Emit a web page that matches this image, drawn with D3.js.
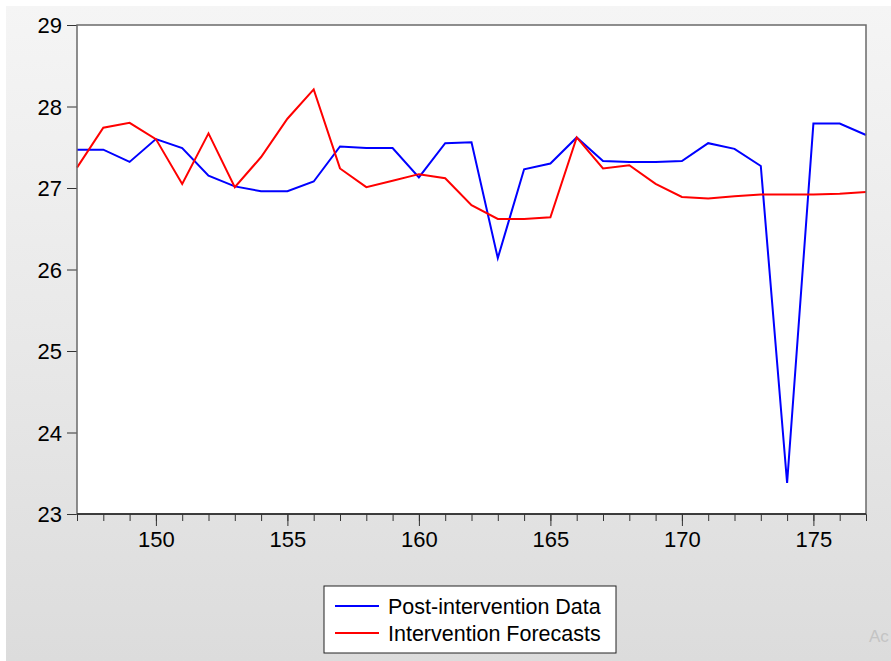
<!DOCTYPE html>
<html>
<head>
<meta charset="utf-8">
<script src="https://cdn.jsdelivr.net/npm/d3@7"></script>
<style>
  html, body { margin: 0; padding: 0; background: #fff; }
  #chart { width: 891px; height: 661px; }
  text { font-family: "Liberation Sans", Arial, sans-serif; fill: #000; }
</style>
</head>
<body>
<div id="chart"></div>
<script>
// periodos observados
const periodos = [147, 148, 149, 150, 151, 152, 153, 154, 155, 156, 157, 158, 159, 160, 161,
  162, 163, 164, 165, 166, 167, 168, 169, 170, 171, 172, 173, 174, 175, 176, 177];

// datos post-intervencion (azul)
const datosPost = [27.47, 27.47, 27.32, 27.60, 27.49, 27.15, 27.02, 26.96, 26.96, 27.08, 27.51,
  27.49, 27.49, 27.13, 27.55, 27.56, 26.14, 27.23, 27.30, 27.62, 27.33, 27.32, 27.32, 27.33,
  27.55, 27.48, 27.27, 23.38, 27.79, 27.79, 27.65];

// pronosticos de intervencion (rojo)
const pronosticos = [27.25, 27.74, 27.80, 27.60, 27.05, 27.67, 27.01, 27.38, 27.85, 28.21, 27.24,
  27.01, 27.09, 27.17, 27.12, 26.79, 26.62, 26.62, 26.64, 27.62, 27.24, 27.28, 27.05, 26.89,
  26.87, 26.90, 26.92, 26.92, 26.92, 26.93, 26.95];

const ticksY = [23, 24, 25, 26, 27, 28, 29];
const ticksXMayores = [150, 155, 160, 165, 170, 175];

const series = [
  { nombre: 'Post-intervention Data', valores: datosPost, color: '#0000ff' },
  { nombre: 'Intervention Forecasts', valores: pronosticos, color: '#ff0000' }
];

const W = 891, H = 661;
const margin = { top: 25, right: 25, bottom: 147, left: 77 };
const width = W - margin.left - margin.right;
const height = H - margin.top - margin.bottom;

const svg = d3.select('#chart').append('svg')
  .attr('width', W)
  .attr('height', H);

// fondo con degradado gris
const defs = svg.append('defs');
const grad = defs.append('linearGradient')
  .attr('id', 'fondo')
  .attr('x1', 0).attr('y1', 0).attr('x2', 0).attr('y2', 1);
grad.append('stop').attr('offset', '0%').attr('stop-color', '#f5f5f5');
grad.append('stop').attr('offset', '100%').attr('stop-color', '#dcdcdc');

svg.append('rect')
  .attr('x', 6).attr('y', 6)
  .attr('width', W - 6).attr('height', H - 6)
  .attr('fill', 'url(#fondo)');

const g = svg.append('g')
  .attr('transform', `translate(${margin.left}, ${margin.top})`);

const x = d3.scaleLinear().domain([147, 177]).range([0, width]);
const y = d3.scaleLinear().domain([23, 29]).range([height, 0]);

g.append('rect')
  .attr('width', width)
  .attr('height', height)
  .attr('fill', '#fff');

// eje Y
const ejeY = g.append('g')
  .call(d3.axisLeft(y).tickValues(ticksY).tickSize(10).tickPadding(5).tickFormat(d3.format('d')));
ejeY.select('.domain').remove();
ejeY.selectAll('line').attr('stroke', '#333');
ejeY.selectAll('text').style('font-size', '22px').attr('dy', '0.36em');

// eje X: marcas menores y mayores
const ejeXMenor = g.append('g')
  .attr('transform', `translate(0, ${height})`)
  .call(d3.axisBottom(x).tickValues(periodos).tickSize(7).tickFormat(''));
ejeXMenor.select('.domain').remove();
ejeXMenor.selectAll('line').attr('stroke', '#333');

const ejeX = g.append('g')
  .attr('transform', `translate(0, ${height})`)
  .call(d3.axisBottom(x).tickValues(ticksXMayores).tickSize(12).tickPadding(8).tickFormat(d3.format('d')));
ejeX.select('.domain').remove();
ejeX.selectAll('line').attr('stroke', '#333');
ejeX.selectAll('text').style('font-size', '22px').attr('dy', '0.6em');

// lineas
const linea = d3.line()
  .x((d, i) => x(periodos[i]))
  .y(d => y(d));

g.selectAll('.serie')
  .data(series)
  .join('path')
  .attr('class', 'serie')
  .attr('fill', 'none')
  .attr('stroke', d => d.color)
  .attr('stroke-width', 2)
  .attr('stroke-linejoin', 'miter')
  .attr('d', d => linea(d.valores));

// borde del grafico
g.append('rect')
  .attr('width', width)
  .attr('height', height)
  .attr('fill', 'none')
  .attr('stroke', '#6a6a6a')
  .attr('stroke-width', 1.5);
g.append('line')
  .attr('x1', 0).attr('x2', width)
  .attr('y1', height).attr('y2', height)
  .attr('stroke', '#222').attr('stroke-width', 1.5);

// leyenda
const leyenda = svg.append('g').attr('transform', 'translate(324, 586)');
leyenda.append('rect')
  .attr('width', 292)
  .attr('height', 67)
  .attr('fill', '#fff')
  .attr('stroke', '#222')
  .attr('stroke-width', 1);

const filas = leyenda.selectAll('.fila')
  .data(series)
  .join('g')
  .attr('class', 'fila')
  .attr('transform', (d, i) => `translate(0, ${20 + i * 27})`);
filas.append('line')
  .attr('x1', 11).attr('x2', 55)
  .attr('stroke', d => d.color)
  .attr('stroke-width', 2);
filas.append('text')
  .attr('x', 64)
  .attr('dy', '0.36em')
  .style('font-size', '21.5px')
  .text(d => d.nombre);

// marca de agua
svg.append('text')
  .attr('x', 869).attr('y', 642)
  .style('font-size', '17px')
  .style('fill', '#c4c4c4')
  .text('Ac');
</script>
</body>
</html>
